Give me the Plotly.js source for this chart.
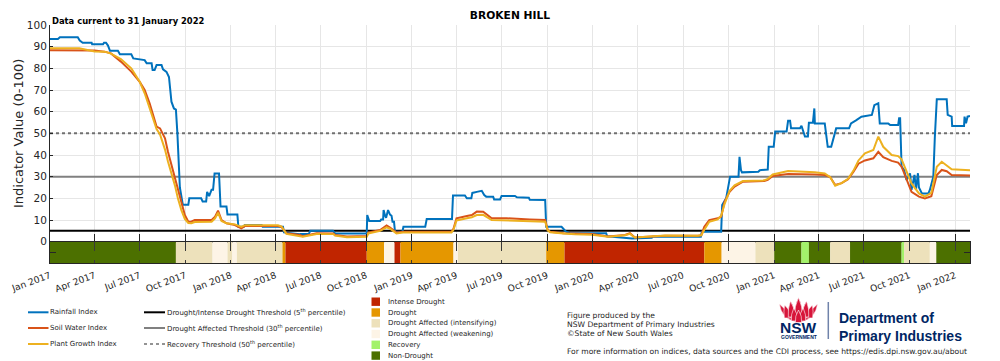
<!DOCTYPE html>
<html>
<head>
<meta charset="utf-8">
<script src="https://cdn.plot.ly/plotly-3.0.1.min.js"></script>
<style>
  html, body { margin: 0; padding: 0; background: #ffffff; }
  #chart { width: 1000px; height: 361px; }
</style>
</head>
<body>
<div id="chart"></div>
<script>
// ---- Broken Hill combined drought indicator series ----
const rainDates = [
  '2017-01-01','2017-01-17','2017-01-21','2017-02-26','2017-03-02','2017-03-08','2017-03-26','2017-03-27',
  '2017-04-18','2017-04-20','2017-04-24','2017-04-28','2017-05-02','2017-05-18','2017-05-22','2017-06-14',
  '2017-06-18','2017-07-05','2017-07-11','2017-07-15','2017-07-25','2017-07-27','2017-07-31','2017-08-04',
  '2017-08-14','2017-08-17','2017-08-24','2017-08-29','2017-08-31','2017-09-03','2017-09-08','2017-09-12',
  '2017-09-15','2017-09-18','2017-09-20','2017-09-23','2017-09-26','2017-10-07','2017-10-09','2017-11-02',
  '2017-11-05','2017-11-12','2017-11-14','2017-11-18','2017-11-23','2017-11-26','2017-11-29','2017-12-08',
  '2017-12-11','2017-12-23','2017-12-25','2018-01-14','2018-01-16','2018-01-27','2018-01-29','2018-03-04',
  '2018-03-06','2018-04-16','2018-04-18','2018-05-20','2018-06-07','2018-06-10','2018-07-26','2018-07-30',
  '2018-10-02','2018-10-03','2018-10-07','2018-10-29','2018-10-31','2018-11-04','2018-11-05','2018-11-08',
  '2018-11-10','2018-11-14','2018-11-18','2018-11-21','2018-11-23','2018-11-26','2018-11-28','2018-12-13',
  '2018-12-15','2019-01-28','2019-01-31','2019-03-23','2019-03-25','2019-04-18','2019-04-22','2019-05-01',
  '2019-05-03','2019-05-12','2019-05-22','2019-05-27','2019-05-31','2019-06-14','2019-06-16','2019-06-28',
  '2019-07-01','2019-07-28','2019-08-01','2019-08-25','2019-08-27','2019-09-27','2019-09-29','2019-10-30',
  '2019-11-02','2019-11-06','2019-11-08','2019-11-16','2020-01-28','2020-01-30','2020-03-16','2020-03-20',
  '2020-04-29','2020-05-01','2020-08-06','2020-08-08','2020-09-16','2020-09-18','2020-09-26','2020-10-04',
  '2020-10-21','2020-10-23','2020-10-26','2020-10-28','2020-11-30','2020-12-03','2020-12-19','2020-12-21',
  '2020-12-31','2021-01-03','2021-01-26','2021-01-29','2021-02-02','2021-02-04','2021-02-22','2021-02-25',
  '2021-03-04','2021-03-10','2021-03-12','2021-03-20','2021-03-23','2021-03-24','2021-04-13','2021-04-19',
  '2021-04-26','2021-05-04','2021-05-06','2021-06-01','2021-06-05','2021-06-15','2021-06-26','2021-07-17',
  '2021-07-22','2021-07-30','2021-08-02','2021-08-19','2021-08-23','2021-09-08','2021-09-10','2021-09-12',
  '2021-09-15','2021-09-20','2021-09-25','2021-10-02','2021-10-05','2021-10-11','2021-10-14','2021-10-18',
  '2021-10-20','2021-10-26','2021-11-08','2021-11-11','2021-11-18','2021-11-21','2021-11-25','2021-12-15',
  '2021-12-17','2021-12-25','2021-12-26','2022-01-19','2022-01-20','2022-01-23','2022-01-26','2022-01-31'
];
const rainValues = [
  93.5, 93.5, 94.3, 94.3, 92.8, 91.8, 91.8, 91.1,
  91.1, 91.8, 91.8, 90.5, 88.1, 88.1, 86.5, 86.5,
  84.6, 84.2, 83.8, 82.3, 82.3, 79.2, 79.2, 81.5,
  81.5, 79.5, 78.4, 76.0, 72.3, 64.6, 61.5, 61.0,
  50.0, 35.0, 25.0, 21.0, 17.0, 17.0, 20.0, 20.0,
  18.5, 18.5, 23.0, 21.0, 24.0, 24.0, 31.5, 31.5,
  16.2, 16.2, 12.6, 12.6, 6.9, 6.9, 7.7, 7.7,
  6.9, 6.9, 4.3, 3.5, 3.5, 5.0, 5.0, 3.8,
  3.8, 12.3, 9.5, 9.5, 10.2, 10.2, 14.6, 12.0,
  11.0, 14.6, 12.5, 12.0, 9.2, 9.2, 4.6, 4.6,
  6.9, 6.9, 10.5, 10.5, 21.3, 21.3, 20.0, 20.0,
  22.5, 23.0, 23.5, 21.5, 20.8, 20.8, 19.5, 19.5,
  21.1, 21.1, 20.5, 20.3, 19.3, 19.2, 6.9, 6.9,
  6.2, 5.4, 4.6, 3.9, 3.9, 2.5, 1.6, 1.5,
  1.8, 2.3, 2.3, 4.6, 4.6, 16.9, 20.0, 30.0,
  30.0, 39.2, 33.0, 32.0, 32.3, 33.0, 33.3, 43.8,
  43.8, 50.8, 50.8, 55.8, 55.8, 52.3, 52.3, 53.5,
  48.5, 48.5, 54.9, 54.9, 61.5, 54.6, 54.6, 43.8,
  43.8, 50.0, 52.3, 52.3, 54.6, 56.0, 57.7, 58.5,
  63.0, 63.9, 54.6, 54.6, 53.8, 53.8, 57.0, 57.0,
  34.6, 33.1, 28.5, 31.5, 23.9, 30.8, 23.9, 31.6,
  25.0, 22.3, 22.3, 23.9, 30.0, 48.0, 65.7, 65.7,
  58.5, 57.7, 53.4, 53.4, 57.7, 54.6, 57.7, 58.0
];

// Soil Water Index and Plant Growth Index share one date axis
const indexDates = [
  '2017-01-01','2017-03-01','2017-04-01','2017-04-21','2017-05-04','2017-05-24','2017-06-14','2017-07-01',
  '2017-07-11','2017-07-21','2017-08-04','2017-08-11','2017-08-21','2017-08-27','2017-09-03','2017-09-10',
  '2017-09-16','2017-09-23','2017-09-30','2017-10-07','2017-10-13','2017-10-20','2017-11-23','2017-11-30',
  '2017-12-06','2017-12-13','2017-12-23','2018-01-09','2018-01-22','2018-01-29','2018-04-06','2018-04-13',
  '2018-04-23','2018-05-20','2018-05-26','2018-06-23','2018-07-27','2018-07-30','2018-08-23','2018-10-02',
  '2018-10-05','2018-10-29','2018-11-11','2018-11-18','2018-11-25','2018-12-01','2018-12-14','2019-03-22',
  '2019-03-26','2019-04-01','2019-04-22','2019-05-02','2019-05-12','2019-05-25','2019-06-11','2019-07-11',
  '2019-08-27','2019-09-27','2019-10-02','2019-10-07','2019-11-03','2019-11-26','2019-12-30','2020-02-01',
  '2020-03-06','2020-03-16','2020-03-26','2020-04-29','2020-05-26','2020-07-31','2020-08-07','2020-08-13',
  '2020-08-23','2020-09-09','2020-09-16','2020-09-23','2020-10-03','2020-10-13','2020-10-30','2020-12-12',
  '2020-12-19','2020-12-29','2021-01-29','2021-03-24','2021-04-13','2021-04-24','2021-05-04','2021-05-17',
  '2021-05-30','2021-06-10','2021-06-20','2021-07-03','2021-07-20','2021-07-30','2021-08-09','2021-08-26',
  '2021-09-08','2021-09-15','2021-09-25','2021-10-05','2021-10-20','2021-11-01','2021-11-14','2021-11-25',
  '2021-12-05','2021-12-15','2021-12-25','2022-01-31'
];
const soilValues = [
  88.4, 88.4, 88.2, 87.7, 86.9, 83.1, 78.5, 73.8,
  70.0, 63.9, 53.1, 52.3, 47.7, 41.5, 35.4, 30.0,
  24.6, 17.7, 12.3, 9.2, 9.2, 10.0, 10.0, 11.5,
  14.3, 10.0, 8.5, 7.7, 6.2, 7.2, 7.2, 6.8,
  3.9, 3.1, 2.5, 3.9, 3.8, 3.1, 2.4, 2.6,
  4.2, 5.4, 7.5, 6.5, 5.2, 4.2, 4.6, 4.7,
  6.0, 10.8, 11.9, 12.3, 13.9, 13.8, 10.8, 10.8,
  10.3, 10.0, 5.4, 4.6, 3.9, 3.6, 3.5, 2.4,
  3.1, 3.9, 1.9, 2.4, 2.8, 2.8, 3.0, 6.9,
  10.0, 10.8, 11.5, 18.5, 23.0, 25.4, 27.7, 28.0,
  28.5, 30.3, 31.2, 31.0, 30.8, 29.8, 26.2, 27.0,
  28.8, 32.3, 36.0, 37.5, 38.5, 41.5, 39.0, 37.3,
  36.5, 34.6, 28.5, 23.0, 20.8, 20.0, 21.0, 30.8,
  33.1, 32.5, 30.8, 30.6
];
const plantValues = [
  89.3, 89.3, 87.8, 87.7, 86.8, 84.3, 80.0, 73.8,
  68.5, 61.5, 52.0, 49.5, 42.5, 37.0, 32.0, 26.0,
  20.0, 14.6, 10.5, 8.6, 8.5, 9.1, 9.2, 10.8,
  13.4, 9.5, 8.5, 8.0, 6.8, 7.6, 7.6, 7.0,
  3.6, 2.8, 2.3, 3.6, 3.5, 2.8, 2.1, 2.3,
  3.8, 5.0, 6.6, 6.0, 4.6, 3.8, 4.2, 4.3,
  5.5, 9.8, 10.8, 11.3, 12.3, 12.4, 10.0, 9.8,
  9.4, 9.2, 5.2, 4.4, 3.8, 3.4, 3.2, 2.3,
  3.0, 3.6, 1.9, 2.5, 2.9, 2.8, 3.0, 5.5,
  9.2, 10.3, 12.0, 17.5, 23.5, 26.0, 28.0, 28.3,
  29.0, 31.0, 32.6, 32.0, 31.5, 29.8, 25.8, 27.0,
  29.0, 32.8, 37.5, 40.8, 42.3, 48.5, 43.8, 40.0,
  39.5, 38.0, 32.3, 26.9, 22.3, 20.8, 22.5, 34.6,
  36.9, 35.0, 33.4, 33.0
];

// Thresholds: drought / intense drought (5th), drought affected (30th), recovery (50th percentile)
const thresholdValues = [5, 30, 50];

// CDI phase band: each phase runs from its start date to the next start
const categoryNames = ['Intense Drought', 'Drought', 'Drought Affected (intensifying)',
                       'Drought Affected (weakening)', 'Recovery', 'Non-Drought'];
const categoryColors = ['#c02500', '#e59700', '#ede1bb', '#fdf4e6', '#a3f26b', '#4c7000'];
const bandStarts = [
  '2017-01-01','2017-09-12','2017-11-25','2017-12-25','2018-01-04','2018-01-13','2018-04-15','2018-04-21',
  '2018-10-02','2018-11-06','2018-11-27','2018-12-09','2019-03-26','2019-04-04','2019-09-29','2019-11-05',
  '2020-08-13','2020-09-17','2020-11-24','2021-01-01','2021-02-25','2021-03-12','2021-04-24','2021-06-03',
  '2021-09-15','2021-09-20','2021-11-11','2021-11-24'
];
const bandClasses = [
  'Non-Drought','Drought Affected (intensifying)','Drought Affected (weakening)','Drought Affected (intensifying)',
  'Drought Affected (weakening)','Drought Affected (intensifying)','Drought','Intense Drought',
  'Drought','Drought Affected (weakening)','Intense Drought','Drought',
  'Drought Affected (weakening)','Drought Affected (intensifying)','Drought','Intense Drought',
  'Drought','Drought Affected (weakening)','Drought Affected (intensifying)','Non-Drought',
  'Recovery','Non-Drought','Drought Affected (intensifying)','Non-Drought',
  'Recovery','Drought Affected (intensifying)','Drought Affected (weakening)','Non-Drought'
];
const dataEnd = '2022-01-31';

const tickDates = [
  '2017-01-01','2017-04-01','2017-07-01','2017-10-01','2018-01-01','2018-04-01','2018-07-01',
  '2018-10-01','2019-01-01','2019-04-01','2019-07-01','2019-10-01','2020-01-01','2020-04-01',
  '2020-07-01','2020-10-01','2021-01-01','2021-04-01','2021-07-01','2021-10-01','2022-01-01'
];
const tickLabels = [
  'Jan 2017','Apr 2017','Jul 2017','Oct 2017','Jan 2018','Apr 2018','Jul 2018',
  'Oct 2018','Jan 2019','Apr 2019','Jul 2019','Oct 2019','Jan 2020','Apr 2020',
  'Jul 2020','Oct 2020','Jan 2021','Apr 2021','Jul 2021','Oct 2021','Jan 2022'
];
const yTicks = [0, 10, 20, 30, 40, 50, 60, 70, 80, 90, 100];

const seriesNames = ['Rainfall Index', 'Soil Water Index', 'Plant Growth Index'];
const seriesColors = ['#0072bd', '#d95319', '#edb120'];
const thresholdNames = [
  'Drought/Intense Drought Threshold (5<sup>th</sup> percentile)',
  'Drought Affected Threshold (30<sup>th</sup> percentile)',
  'Recovery Threshold (50<sup>th</sup> percentile)'
];
const thresholdLines = [
  {color: '#000000', width: 2, dash: 'solid'},
  {color: '#808080', width: 2, dash: 'solid'},
  {color: '#707070', width: 2, dash: 'dot'}
];

// ---- page geometry ----
const W = 1000, H = 361;
const M = {l: 50, r: 30, t: 25, b: 98};
const plotW = W - M.l - M.r, plotH = H - M.t - M.b;
const bandFrac = 21.3 / plotH;               // phase band height as a fraction of the plot area
const px = x => (x - M.l) / plotW;           // page pixel -> paper x
const py = y => (M.t + plotH - y) / plotH;   // page pixel -> paper y

const FONT = 'DejaVu Sans, Verdana, sans-serif';
const LOGO_FONT = 'Liberation Sans, Arial, Helvetica, sans-serif';
const ink = '#262626';

// ---- traces ----
const traces = [];
thresholdValues.forEach((v, i) => {
  traces.push({
    x: [tickDates[0], dataEnd], y: [v, v], mode: 'lines', xaxis: 'x', yaxis: 'y',
    line: thresholdLines[i], hoverinfo: 'skip', showlegend: false
  });
});
traces.push({x: rainDates, y: rainValues, mode: 'lines', name: seriesNames[0],
  line: {color: seriesColors[0], width: 2}, xaxis: 'x', yaxis: 'y'});
traces.push({x: indexDates, y: soilValues, mode: 'lines', name: seriesNames[1],
  line: {color: seriesColors[1], width: 2}, xaxis: 'x', yaxis: 'y'});
traces.push({x: indexDates, y: plantValues, mode: 'lines', name: seriesNames[2],
  line: {color: seriesColors[2], width: 2}, xaxis: 'x', yaxis: 'y'});
// the phase band lives on its own small subplot
traces.push({x: [tickDates[0]], y: [-5], mode: 'markers', marker: {opacity: 0},
  xaxis: 'x2', yaxis: 'y2', hoverinfo: 'skip', showlegend: false});

// ---- shapes ----
const shapes = [];
bandStarts.forEach((start, i) => {
  const end = i + 1 < bandStarts.length ? bandStarts[i + 1] : dataEnd;
  shapes.push({
    type: 'rect', xref: 'x2', yref: 'y2', x0: start, x1: end, y0: -10, y1: 0,
    fillcolor: categoryColors[categoryNames.indexOf(bandClasses[i])],
    line: {width: 0}, layer: 'below'
  });
});

// custom key: index lines
const annotations = [];
const keyRows = [312.3, 328, 344];
const keyFont = {family: FONT, size: 7, color: ink};
seriesNames.forEach((name, i) => {
  shapes.push({type: 'line', xref: 'paper', yref: 'paper', x0: px(28), x1: px(48.5),
    y0: py(keyRows[i]), y1: py(keyRows[i]), line: {color: seriesColors[i], width: 2}});
  annotations.push({xref: 'paper', yref: 'paper', x: px(48.3), y: py(keyRows[i]),
    xanchor: 'left', yanchor: 'middle', text: name, showarrow: false, font: keyFont});
});
// threshold key
thresholdNames.forEach((name, i) => {
  shapes.push({type: 'line', xref: 'paper', yref: 'paper', x0: px(144), x1: px(165),
    y0: py(keyRows[i]), y1: py(keyRows[i]),
    line: {color: thresholdLines[i].color, width: i === 2 ? 1.5 : 2, dash: thresholdLines[i].dash}});
  annotations.push({xref: 'paper', yref: 'paper', x: px(164.7), y: py(keyRows[i]),
    xanchor: 'left', yanchor: 'middle', text: name, showarrow: false, font: keyFont});
});
// phase key
const phaseRows = [301.7, 312.5, 323.3, 334, 344.8, 355.6];
categoryNames.forEach((name, i) => {
  shapes.push({type: 'rect', xref: 'paper', yref: 'paper', x0: px(371.5), x1: px(380),
    y0: py(phaseRows[i] + 4.2), y1: py(phaseRows[i] - 4.2),
    fillcolor: categoryColors[i], line: {width: 0}});
  annotations.push({xref: 'paper', yref: 'paper', x: px(386.3), y: py(phaseRows[i]),
    xanchor: 'left', yanchor: 'middle', text: name, showarrow: false, font: keyFont});
});

// credits
const creditFont = {family: FONT, size: 7.6, color: ink};
const creditLines = ['Figure produced by the', 'NSW Department of Primary Industries', '\u00A9State of New South Wales'];
const creditRows = [315, 324.4, 333.8];
creditLines.forEach((t, i) => {
  annotations.push({xref: 'paper', yref: 'paper', x: px(565), y: py(creditRows[i]),
    xanchor: 'left', yanchor: 'middle', text: t, showarrow: false, font: creditFont});
});
annotations.push({xref: 'paper', yref: 'paper', x: px(565), y: py(351),
  xanchor: 'left', yanchor: 'middle', showarrow: false,
  text: 'For more information on indices, data sources and the CDI process, see https://edis.dpi.nsw.gov.au/about',
  font: creditFont});

// NSW waratah emblem
const red = '#d7153a', navy = '#002664';
function petal(bx, by, tx, ty, w) {
  const my = (by + ty) / 2;
  return 'M' + px(bx - w) + ',' + py(by) +
         ' Q' + px(bx - w * 1.25) + ',' + py(my) + ' ' + px(tx) + ',' + py(ty) +
         ' Q' + px(bx + w * 1.25) + ',' + py(my) + ' ' + px(bx + w) + ',' + py(by) + ' Z';
}
function leaf(bx, by, tx, ty, cx1, cy1, cx2, cy2) {
  return 'M' + px(bx) + ',' + py(by) +
         ' Q' + px(cx1) + ',' + py(cy1) + ' ' + px(tx) + ',' + py(ty) +
         ' Q' + px(cx2) + ',' + py(cy2) + ' ' + px(bx) + ',' + py(by - 2) + ' Z';
}
const flowerPaths = [
  leaf(796, 322, 779.5, 304, 781, 318, 790, 314),
  leaf(801, 322, 817.5, 304, 816, 318, 807, 314),
  petal(787.5, 318, 784.5, 305, 3.2),
  petal(809.5, 318, 812.5, 305, 3.2),
  petal(791.5, 317, 790.5, 301, 3.2),
  petal(805.5, 317, 806.5, 301, 3.2),
  petal(798.5, 316, 798.5, 297.5, 3.6),
  petal(794.5, 321, 793.8, 308, 3.1),
  petal(802.5, 321, 803.2, 308, 3.1),
  petal(798.5, 322.5, 798.5, 310, 3.1)
];
flowerPaths.forEach(p => shapes.push({type: 'path', xref: 'paper', yref: 'paper', path: p,
  fillcolor: red, line: {color: '#ffffff', width: 0.6}}));
annotations.push({xref: 'paper', yref: 'paper', x: px(798.5), y: py(327.6), xanchor: 'center', yanchor: 'middle',
  text: '<b>NSW</b>', showarrow: false, font: {family: LOGO_FONT, size: 15.5, color: navy}});
annotations.push({xref: 'paper', yref: 'paper', x: px(798.5), y: py(337.3), xanchor: 'center', yanchor: 'middle',
  text: '<b>GOVERNMENT</b>', showarrow: false, font: {family: LOGO_FONT, size: 5, color: navy}});
shapes.push({type: 'line', xref: 'paper', yref: 'paper', x0: px(828.3), x1: px(828.3), y0: py(302), y1: py(339),
  line: {color: '#7083aa', width: 1.5}});
// agency name, two lines set tight like the logotype
annotations.push({xref: 'paper', yref: 'paper', x: px(838), y: py(327.3), xanchor: 'left', yanchor: 'bottom',
  borderpad: 0, text: '<b>Department of</b>', showarrow: false, font: {family: LOGO_FONT, size: 14, color: navy}});
annotations.push({xref: 'paper', yref: 'paper', x: px(838), y: py(327.3), xanchor: 'left', yanchor: 'top',
  borderpad: 0, text: '<b>Primary Industries</b>', showarrow: false, font: {family: LOGO_FONT, size: 14, color: navy}});

// headers
annotations.push({xref: 'paper', yref: 'paper', x: 0, y: py(20.5), xanchor: 'left', yanchor: 'middle',
  text: '<b>Data current to 31 January 2022</b>', showarrow: false,
  font: {family: FONT, size: 8.4, color: '#000000'}});

const layout = {
  width: W, height: H,
  margin: M,
  paper_bgcolor: '#ffffff', plot_bgcolor: '#ffffff',
  showlegend: false,
  font: {family: FONT, color: ink},
  title: {text: '<b>BROKEN HILL</b>', x: px(510), xref: 'paper', xanchor: 'center',
          y: 1 - 15.5 / H, yref: 'container', yanchor: 'middle',
          font: {family: FONT, size: 10.7, color: '#000000'}},
  xaxis: {
    type: 'date', range: [tickDates[0], dataEnd], anchor: 'y', domain: [0, 1],
    tickmode: 'array', tickvals: tickDates, showticklabels: false,
    ticks: 'inside', ticklen: 8, tickcolor: ink, tickwidth: 1,
    showgrid: true, gridcolor: '#e6e6e6', gridwidth: 1,
    showline: true, linecolor: ink, linewidth: 1, zeroline: false, automargin: false
  },
  xaxis2: {
    type: 'date', matches: 'x', range: [tickDates[0], dataEnd], anchor: 'y2', domain: [0, 1],
    tickmode: 'array', tickvals: tickDates, ticktext: tickLabels, tickangle: -20,
    tickfont: {family: FONT, size: 9.2, color: ink}, ticks: '', ticklabelstandoff: 3,
    showgrid: true, gridcolor: '#3a3a3a', gridwidth: 1, griddash: 'dash',
    showline: true, mirror: true, linecolor: ink, linewidth: 1, zeroline: false, automargin: false
  },
  yaxis: {
    domain: [bandFrac, 1], range: [0, 100], anchor: 'x',
    tickmode: 'array', tickvals: yTicks, ticktext: yTicks.map(String),
    tickfont: {family: FONT, size: 10.5, color: ink},
    ticks: 'inside', ticklen: 3, tickcolor: ink,
    showgrid: true, gridcolor: '#e6e6e6', gridwidth: 1,
    showline: true, linecolor: ink, linewidth: 1, zeroline: false, automargin: false,
    title: {text: 'Indicator Value (0-100)', font: {family: FONT, size: 13, color: ink}, standoff: 0}
  },
  yaxis2: {
    domain: [0, bandFrac], range: [-10, 0], anchor: 'x2',
    tickmode: 'array', tickvals: [-5], showticklabels: false,
    ticks: 'inside', ticklen: 6, tickcolor: ink,
    showgrid: false, showline: true, mirror: 'ticks', linecolor: ink, linewidth: 1,
    zeroline: false, automargin: false
  },
  shapes: shapes,
  annotations: annotations
};

Plotly.newPlot('chart', traces, layout, {staticPlot: true, displayModeBar: false});
</script>
</body>
</html>
